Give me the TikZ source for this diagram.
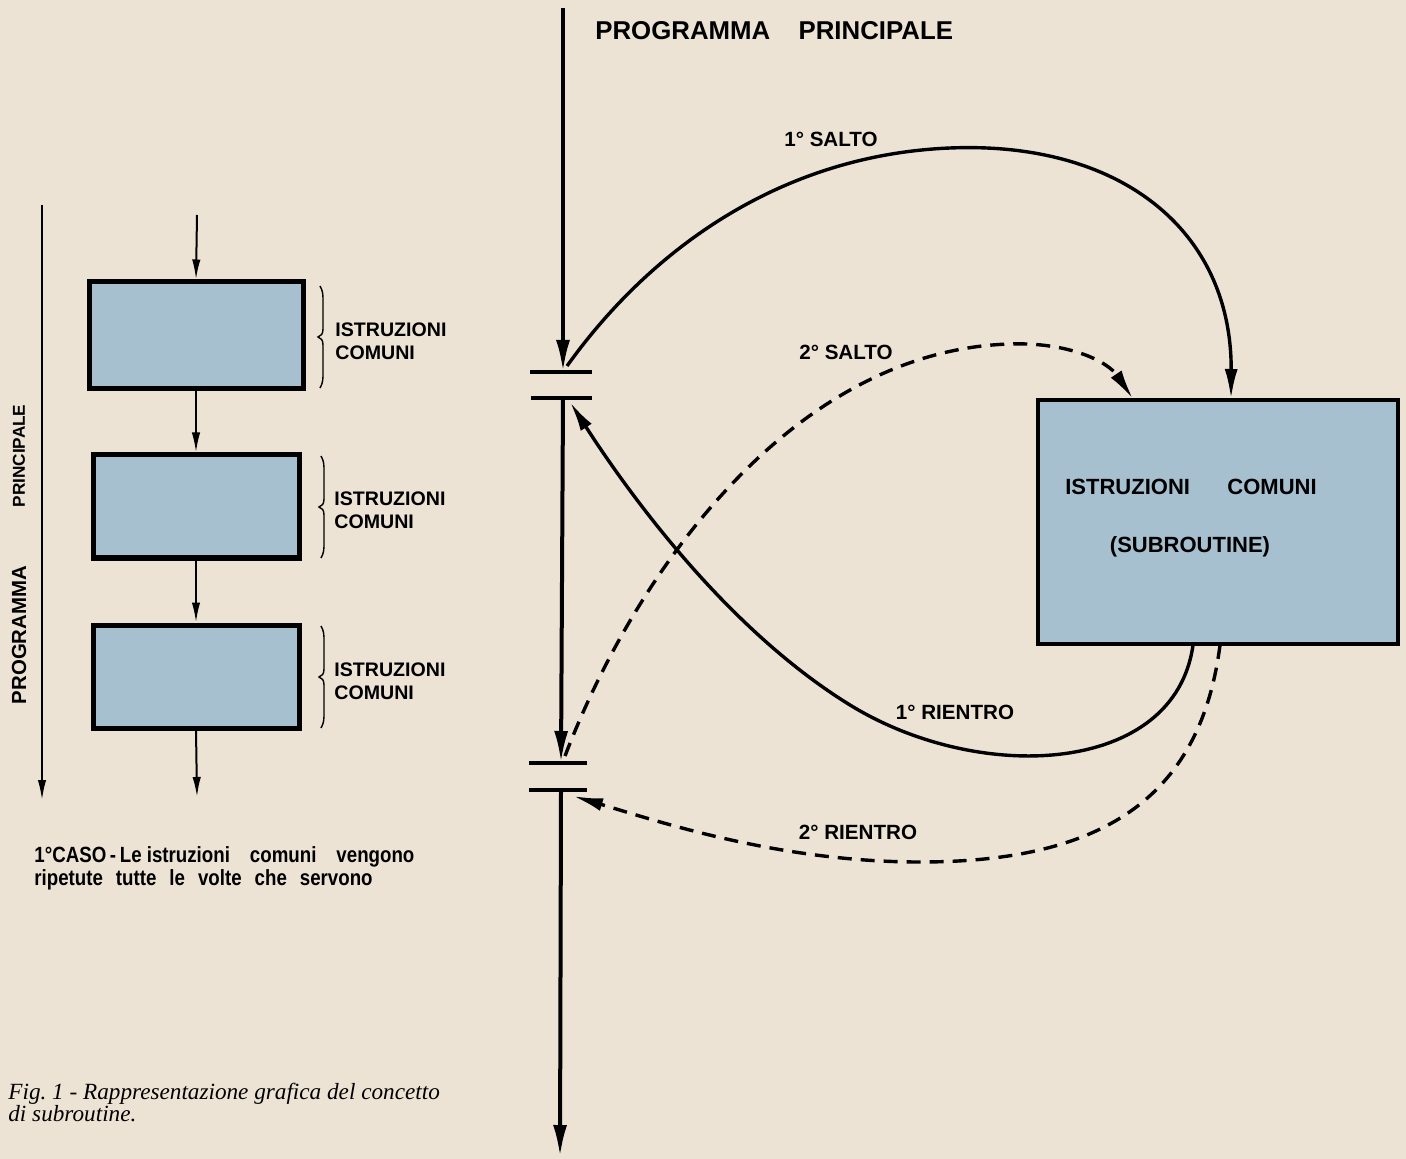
\documentclass[tikz,border=0pt]{standalone}
\usepackage{fontspec}
\setmainfont{Liberation Sans}
\newfontfamily\capserif{Liberation Serif}
\newfontfamily\narrowsans[FakeStretch=0.85]{Liberation Sans}
\usetikzlibrary{arrows.meta}
\definecolor{paper}{RGB}{236,227,212}
\definecolor{boxblue}{RGB}{166,192,208}

\tikzset{
  mainln/.style={line width=2pt, -{Latex[length=16pt,width=7pt]}},
  flow/.style={line width=1.7pt, -{Latex[length=15pt,width=6.5pt]}},
  dashflow/.style={flow, dash pattern=on 7pt off 4.5pt},
  gapbar/.style={line width=1.8pt},
  smallflow/.style={line width=1pt, -{Latex[length=10pt,width=4.2pt]}},
  leftbox/.style={draw, line width=2.5pt, fill=boxblue, inner sep=0pt,
    minimum width=103pt, minimum height=51.5pt},
  subbox/.style={draw, line width=1.8pt, fill=boxblue, inner sep=0pt,
    minimum width=180pt, minimum height=122pt},
  title/.style={font=\fontsize{12.9}{15}\selectfont\bfseries, inner sep=0pt},
  arclbl/.style={font=\fontsize{10.3}{12}\selectfont\bfseries, inner sep=0pt},
  sidelbl/.style={font=\fontsize{9.8}{11.5}\selectfont\bfseries, inner sep=0pt, align=left, anchor=west},
  sublbl/.style={font=\fontsize{11}{13}\selectfont\bfseries, inner sep=0pt},
  vlbl/.style={rotate=90, inner sep=0pt},
  curly/.pic={
    \draw[line width=0.7pt] (2,-51) .. controls (5,-46) and (5,-42) .. (5,-36) -- (5,-8)
      .. controls (5,-3) and (3,-1) .. (0,0) .. controls (3,1) and (5,3) .. (5,8)
      -- (5,36) .. controls (5,42) and (5,46) .. (2,51);
  },
}

\begin{document}
\begin{tikzpicture}[x=0.5pt, y=-0.5pt]
\fill[paper] (0,0) rectangle (1406,1159);
\useasboundingbox (0,0) rectangle (1406,1159);

% ---------- first case: instructions repeated in the program ----------
\coordinate (lefttop) at (42,205);
\coordinate (leftbot) at (42,800);
\draw[smallflow] (lefttop) -- (leftbot);
\node[vlbl, font=\fontsize{10.2}{12}\selectfont\bfseries] (vlabel1) at (19,635) {PROGRAMMA};
\node[vlbl, font=\fontsize{8.6}{12}\selectfont\bfseries] (vlabel2) at (19,456) {PRINCIPALE};

\node[leftbox, minimum width=107pt, minimum height=53.5pt] (b1) at (196,335.5) {};
\node[leftbox] (b2) at (196,506.5) {};
\node[leftbox] (b3) at (196,676.5) {};

\coordinate (in1) at (197,215);
\coordinate (out3) at (197,797);
\draw[smallflow] (in1) -- (b1.north);
\draw[smallflow] (b1.south) -- (b2.north);
\draw[smallflow] (b2.south) -- (b3.north);
\draw[smallflow] (b3.south) -- (out3);

\pic at (318,337) {curly};
\pic at (319,507) {curly};
\pic at (319,677) {curly};

\node[sidelbl] (t1) at (335,341) {ISTRUZIONI\\COMUNI};
\node[sidelbl] (t2) at (334,510) {ISTRUZIONI\\COMUNI};
\node[sidelbl] (t3) at (334,681) {ISTRUZIONI\\COMUNI};

\node[anchor=west, align=left, inner sep=0pt,
  font=\narrowsans\fontsize{11}{11.6}\selectfont\bfseries] (case) at (34,868)
  {1°CASO\,-\,Le istruzioni\hspace{10pt}comuni\hspace{10pt}vengono\\
   ripetute\hspace{6.5pt}tutte\hspace{6.5pt}le\hspace{6.5pt}volte\hspace{6.5pt}che\hspace{6.5pt}servono};

\node[anchor=west, align=left, inner sep=0pt,
  font=\capserif\itshape\fontsize{11.6}{11}\selectfont] (fig) at (8,1102)
  {Fig.\ 1 - Rappresentazione grafica del concetto\\di subroutine.};

% ---------- main program with the subroutine ----------
\node[title, anchor=base west] (main) at (595,40) {PROGRAMMA\hspace{1.1em}PRINCIPALE};

\coordinate (mtop) at (563,8);
\coordinate (g1a) at (563,372);
\coordinate (g1b) at (563,398);
\coordinate (g2a) at (561,763);
\coordinate (g2b) at (561,790);
\coordinate (mbot) at (560,1157);

\draw[mainln] (mtop) -- (g1a);
\draw[mainln] (g1b) -- (g2a);
\draw[mainln] (g2b) -- (mbot);

\draw[gapbar] ([xshift=-16.5pt]g1a) -- ([xshift=14.5pt]g1a);
\draw[gapbar] ([xshift=-16pt]g1b) -- ([xshift=14.5pt]g1b);
\draw[gapbar] ([xshift=-16pt]g2a) -- ([xshift=13pt]g2a);
\draw[gapbar] ([xshift=-16pt]g2b) -- ([xshift=13pt]g2b);

\node[subbox] (sub) at (1218,522) {};
\node[sublbl] (subt1) at (1191,487) {ISTRUZIONI\hspace{1.7em}COMUNI};
\node[sublbl] (subt2) at (1190,547) {(SUBROUTINE)};

\coordinate (j1s) at (567,366);
\coordinate (j1e) at (1231,399);
\coordinate (j2s) at (565,756);
\coordinate (j2e) at (1133,399);
\coordinate (r1s) at (1193,645);
\coordinate (r1e) at (570,402);
\coordinate (r2s) at (1220,645);
\coordinate (r2e) at (573,796);

% first jump (solid) and second jump (dashed)
\draw[flow] (j1s) .. controls (650,250) and (780,155) .. (950,148)
  .. controls (1120,141) and (1232,230) .. (j1e);
\draw[dashflow] (j2s) .. controls (640,560) and (800,350) .. (1010,344)
  .. controls (1070,342) and (1108,362) .. (j2e);

% first return (solid) and second return (dashed)
\draw[flow] (r1s) .. controls (1175,775) and (980,785) .. (850,705)
  .. controls (720,625) and (620,480) .. (r1e);
\draw[dashflow] (r2s) .. controls (1200,800) and (1100,862) .. (920,862)
  .. controls (780,862) and (660,822) .. (r2e);

\node[arclbl] (l1) at (831,139) {1° SALTO};
\node[arclbl] (l2) at (846,352) {2° SALTO};
\node[arclbl] (l3) at (955,712) {1° RIENTRO};
\node[arclbl] (l4) at (858,832) {2° RIENTRO};
\end{tikzpicture}
\end{document}
